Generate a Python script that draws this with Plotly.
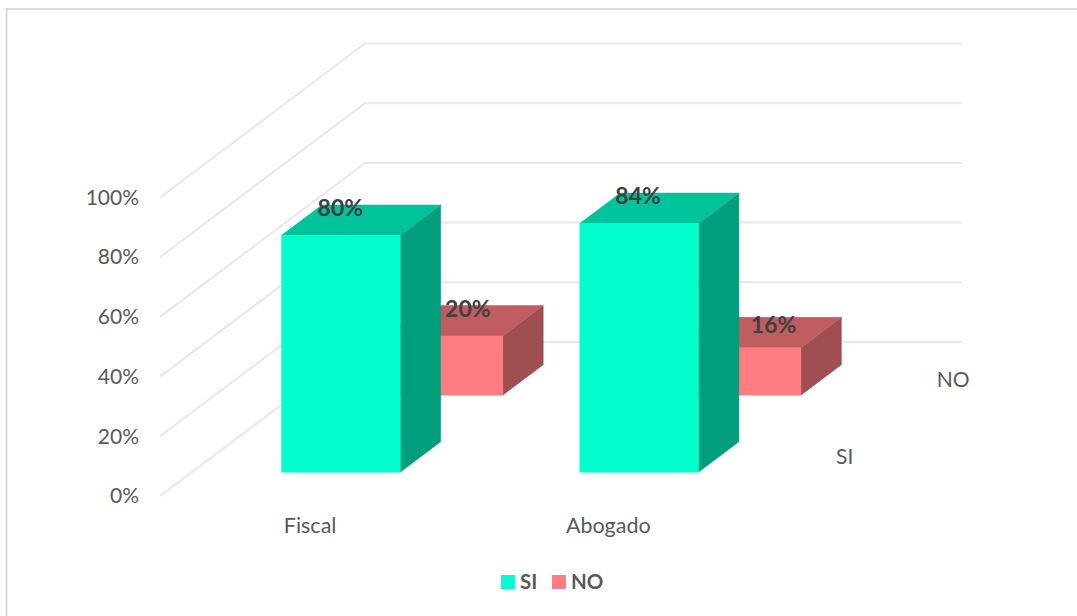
import plotly.graph_objects as go

# Data
categories = ["Fiscal", "Abogado"]
series_names = ["SI", "NO"]
si_values = [80, 84]
no_values = [20, 16]
tick_values = [0, 20, 40, 60, 80, 100]
tick_labels = ["0%", "20%", "40%", "60%", "80%", "100%"]

# Styling
FONT = "Lato, Carlito, 'Open Sans', sans-serif"
FACE = {"SI": ("#00FFCC", "#00C29B", "#009E7D"), "NO": ("#FF7C80", "#C05D60", "#9F4E51")}
GRID = "#E7E7E7"
TXT = "#595959"
DARK = "#404040"

# Oblique projection of (category, depth, value) onto the page
ORIGIN_X, ORIGIN_Y = 160, 496
CAT_DX = 298.2
DEPTH_DX, DEPTH_DY = 102.5, -77
VAL_DY_GRID = 2.985
VAL_DY_BAR = 2.96
BAR_W, BAR_D = 0.398, 0.395


def proj(c, z, v=0, k=VAL_DY_GRID):
    return ORIGIN_X + c * CAT_DX + z * DEPTH_DX, ORIGIN_Y + z * DEPTH_DY - v * k


def poly(points):
    xs = [p[0] for p in points] + [points[0][0]]
    ys = [p[1] for p in points] + [points[0][1]]
    return xs, ys


fig = go.Figure()

# Walls: side and back gridlines
n_cat, n_ser = len(categories), len(series_names)
for t in tick_values:
    a, b, c = proj(0, 0, t), proj(0, n_ser, t), proj(n_cat, n_ser, t)
    fig.add_trace(go.Scatter(x=[a[0], b[0], c[0]], y=[a[1], b[1], c[1]], mode="lines",
                             line=dict(color=GRID, width=2), hoverinfo="skip", showlegend=False))

# Bars, back series first
series_values = {"SI": si_values, "NO": no_values}
for z in reversed(range(n_ser)):
    name = series_names[z]
    front, top, side = FACE[name]
    for i, v in enumerate(series_values[name]):
        c0, c1 = i + 0.5 - BAR_W / 2, i + 0.5 + BAR_W / 2
        z0, z1 = z + 0.31, z + 0.31 + BAR_D
        P = lambda c, d, val: proj(c, d, val, VAL_DY_BAR)
        faces = [
            (side, [P(c1, z0, 0), P(c1, z1, 0), P(c1, z1, v), P(c1, z0, v)]),
            (top, [P(c0, z0, v), P(c1, z0, v), P(c1, z1, v), P(c0, z1, v)]),
            (front, [P(c0, z0, 0), P(c1, z0, 0), P(c1, z0, v), P(c0, z0, v)]),
        ]
        for col, pts in faces:
            xs, ys = poly(pts)
            fig.add_trace(go.Scatter(x=xs, y=ys, mode="lines", fill="toself", fillcolor=col,
                                     line=dict(color=col, width=0.5), hoverinfo="skip",
                                     showlegend=False))

# Value-axis labels
lx = [proj(0, 0, t)[0] - 21 for t in tick_values]
ly = [proj(0, 0, t)[1] + 2 for t in tick_values]
fig.add_trace(go.Scatter(x=lx, y=ly, mode="text", text=tick_labels, textposition="middle left",
                         textfont=dict(family=FONT, size=21, color=TXT), hoverinfo="skip",
                         showlegend=False))

# Category labels
cx = [proj(i + 0.5, 0)[0] + 1 for i in range(n_cat)]
cy = [proj(i + 0.5, 0)[1] + 32 for i in range(n_cat)]
fig.add_trace(go.Scatter(x=cx, y=cy, mode="text", text=categories, textposition="middle center",
                         textfont=dict(family=FONT, size=21.5, color=TXT), hoverinfo="skip",
                         showlegend=False))

# Depth-axis labels
depth_extra = [37, 43]
sx = [proj(n_cat, z + 0.5)[0] + depth_extra[z] for z in range(n_ser)]
sy = [proj(n_cat, z + 0.5)[1] + 1 for z in range(n_ser)]
fig.add_trace(go.Scatter(x=sx, y=sy, mode="text", text=series_names, textposition="middle center",
                         textfont=dict(family=FONT, size=21, color=TXT), hoverinfo="skip",
                         showlegend=False))

# Data labels
label_offsets = {"SI": [(-0.5, -25), (-1, -25)], "NO": [(24.5, -25), (32, -21)]}
for z, name in enumerate(series_names):
    vals = series_values[name]
    xs, ys = [], []
    for i, v in enumerate(vals):
        px, py = proj(i + 0.5, z + 0.31, v, VAL_DY_BAR)
        xs.append(px + label_offsets[name][i][0])
        ys.append(py + label_offsets[name][i][1])
    fig.add_trace(go.Scatter(x=xs, y=ys, mode="text", text=[f"{v}%" for v in vals],
                             textposition="middle center",
                             textfont=dict(family=FONT, size=23, color=DARK, weight="bold"),
                             hoverinfo="skip", showlegend=False))

# Legend
legend_x = [508, 559]
legend_tx = [520, 571]
for k, name in enumerate(series_names):
    fig.add_trace(go.Scatter(x=[legend_x[k]], y=[582], mode="markers",
                             marker=dict(symbol="square", size=14, color=FACE[name][0], line=dict(width=0)),
                             hoverinfo="skip", showlegend=False))
    fig.add_trace(go.Scatter(x=[legend_tx[k]], y=[583.5], mode="text", text=[name],
                             textposition="middle right",
                             textfont=dict(family=FONT, size=20.5, color=TXT, weight="bold"),
                             hoverinfo="skip", showlegend=False))

fig.update_layout(
    width=1077, height=616, margin=dict(l=0, r=0, t=0, b=0),
    paper_bgcolor="white", plot_bgcolor="white", showlegend=False,
    xaxis=dict(range=[0, 1077], visible=False, fixedrange=True),
    yaxis=dict(range=[616, 0], visible=False, fixedrange=True),
    shapes=[dict(type="rect", xref="x", yref="y", x0=6.5, y0=9, x1=1090, y1=630,
                 line=dict(color="#D9D9D9", width=2), layer="below")],
)
fig.write_html("out.html", config={"displayModeBar": False},
               post_script="document.body.style.margin='0';document.documentElement.style.overflow='hidden';")
